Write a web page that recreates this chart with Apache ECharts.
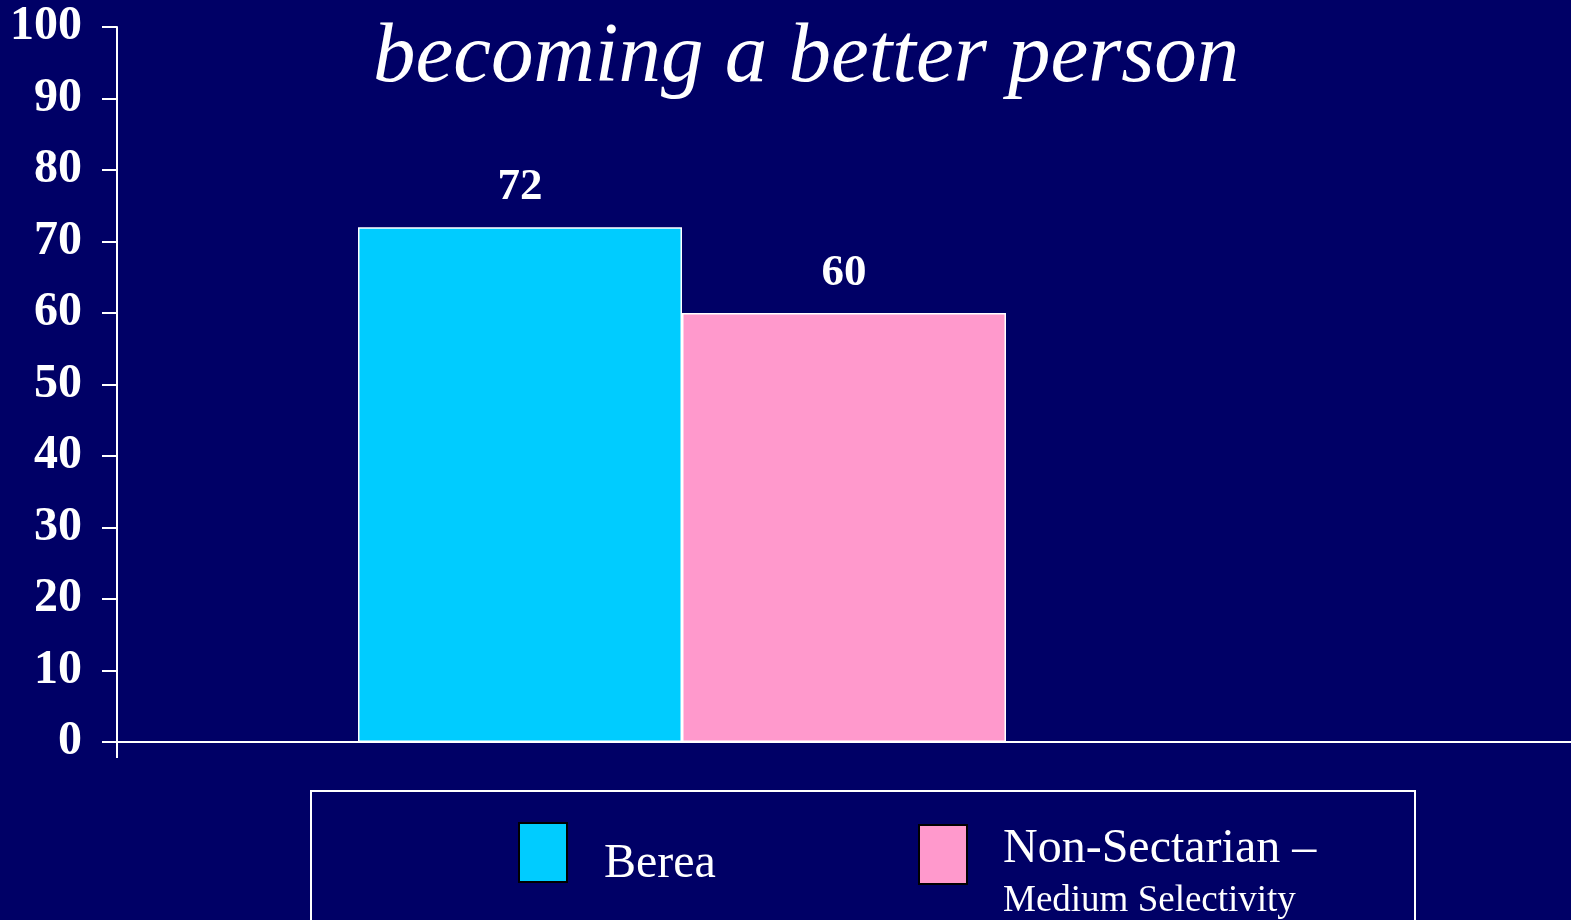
<!DOCTYPE html>
<html>
<head>
<meta charset="utf-8">
<script src="https://cdn.jsdelivr.net/npm/echarts@6/dist/echarts.min.js"></script>
<style>
html,body{margin:0;padding:0;background:#000066;}
#chart{width:1571px;height:920px;}
</style>
</head>
<body>
<div id="chart"></div>
<script>
const titleText = 'becoming a better person';
const categories = ['becoming a better person'];
const seriesNames = ['Berea', 'Non-Sectarian – Medium Selectivity'];
const bereaValues = [72];
const nonSectarianValues = [60];
const yTicks = [0, 10, 20, 30, 40, 50, 60, 70, 80, 90, 100];

const SERIF = "'Liberation Serif', 'Times New Roman', serif";
const chart = echarts.init(document.getElementById('chart'));

const labelStyle = {
  show: true, position: 'top', distance: 17,
  color: '#ffffff', fontFamily: SERIF, fontWeight: 'bold', fontSize: 45
};

chart.setOption({
  backgroundColor: '#000066',
  animation: false,
  title: {
    text: titleText, left: 368, top: 11,
    textStyle: { color: '#ffffff', fontFamily: SERIF, fontStyle: 'italic', fontWeight: 'normal', fontSize: 85 }
  },
  grid: [
    { left: 117, top: 27, width: 1130, bottom: 178, outerBoundsMode: 'none' },
    { left: 117, top: 27, width: 1520, bottom: 178, outerBoundsMode: 'none' }
  ],
  xAxis: [
    { type: 'category', gridIndex: 0, data: categories,
      axisLine: { show: true, lineStyle: { color: '#ffffff', width: 2 } },
      axisTick: { show: false }, axisLabel: { show: false } },
    { type: 'category', gridIndex: 1, data: [''],
      axisLine: { show: true, lineStyle: { color: '#ffffff', width: 2 } },
      axisTick: { show: true, length: 16, lineStyle: { color: '#ffffff', width: 2 } },
      axisLabel: { show: false } }
  ],
  yAxis: [
    { type: 'value', gridIndex: 0, min: yTicks[0], max: yTicks[yTicks.length - 1], interval: 10,
      axisLine: { show: true, lineStyle: { color: '#ffffff', width: 2 } },
      axisTick: { show: true, length: 15, lineStyle: { color: '#ffffff', width: 2 } },
      splitLine: { show: false },
      axisLabel: { color: '#ffffff', fontFamily: SERIF, fontWeight: 'bold', fontSize: 48, margin: 35 } },
    { type: 'value', gridIndex: 1, min: 0, max: 100, show: false }
  ],
  legend: [
    { data: [seriesNames[0]], left: 518, top: 822, padding: 0, icon: 'rect',
      itemWidth: 48, itemHeight: 59, itemGap: 0,
      itemStyle: { borderColor: '#000000', borderWidth: 2 },
      formatter: '{a|{name}}',
      textStyle: { color: '#ffffff', fontFamily: SERIF,
        rich: { a: { color: '#ffffff', fontFamily: SERIF, fontSize: 48, padding: [24, 0, 0, 32] } } } },
    { data: [seriesNames[1]], left: 918, top: 824, padding: 0, icon: 'rect',
      itemWidth: 48, itemHeight: 59, itemGap: 0,
      itemStyle: { borderColor: '#000000', borderWidth: 2 },
      formatter: function () { return '{a|Non-Sectarian –}\n{b|Medium Selectivity}'; },
      textStyle: { color: '#ffffff', fontFamily: SERIF, padding: [42, 0, 0, 31],
        rich: {
          a: { color: '#ffffff', fontFamily: SERIF, fontSize: 48, lineHeight: 52 },
          b: { color: '#ffffff', fontFamily: SERIF, fontSize: 37, lineHeight: 52 }
        } } }
  ],
  graphic: [
    { type: 'rect', shape: { x: 311, y: 791, width: 1104, height: 200 },
      style: { fill: 'none', stroke: '#ffffff', lineWidth: 2 }, silent: true }
  ],
  series: [
    { name: seriesNames[0], type: 'bar', xAxisIndex: 0, yAxisIndex: 0, data: bereaValues,
      barWidth: 324, barGap: '0%',
      itemStyle: { color: '#00CCFF', borderColor: '#ffffff', borderWidth: 1.5 },
      label: labelStyle },
    { name: seriesNames[1], type: 'bar', xAxisIndex: 0, yAxisIndex: 0, data: nonSectarianValues,
      barWidth: 324, barGap: '0%',
      itemStyle: { color: '#FF99CC', borderColor: '#ffffff', borderWidth: 1.5 },
      label: labelStyle }
  ]
});
</script>
</body>
</html>
